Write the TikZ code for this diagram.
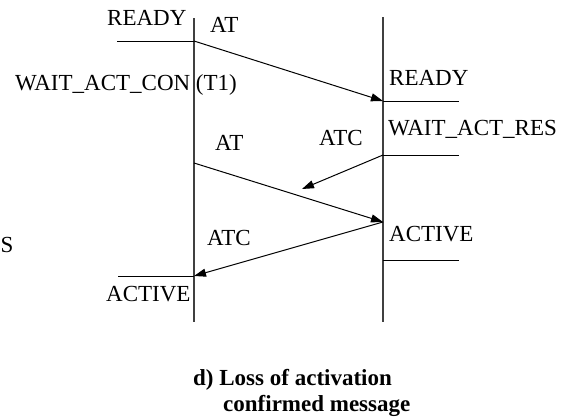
\documentclass[tikz,border=0pt]{standalone}
\usepackage{fontspec}
\setmainfont{Liberation Serif}
\usetikzlibrary{arrows.meta}
\tikzset{
  lbl/.style={inner sep=0pt, anchor=base west, font=\fontsize{23}{27}\selectfont},
  captxt/.style={inner sep=0pt, anchor=base west, font=\fontsize{23}{27}\selectfont\bfseries},
  life/.style={line width=1.4pt, draw=black!75},
  state/.style={line width=1pt, draw=black},
  msg/.style={line width=1pt, draw=black, -{Triangle[length=12pt,width=8pt]}}
}
\begin{document}
\begin{tikzpicture}[x=1pt,y=-1pt]
\useasboundingbox (0,0) rectangle (564,418);
% lifelines
\coordinate (Ltop) at (194,18);
\coordinate (Lbot) at (194,322);
\coordinate (Rtop) at (383,17);
\coordinate (Rbot) at (383,322);
\draw[life] (Ltop) -- (Lbot);
\draw[life] (Rtop) -- (Rbot);
% state lines
\coordinate (lr0) at (117,41);  \coordinate (lr1) at (194,41);
\coordinate (rr0) at (383,101); \coordinate (rr1) at (459,101);
\coordinate (rw0) at (383,155); \coordinate (rw1) at (459,155);
\coordinate (ra0) at (383,260); \coordinate (ra1) at (459,260);
\coordinate (la0) at (118,276); \coordinate (la1) at (194,276);
\draw[state] (lr0) -- (lr1);
\draw[state] (rr0) -- (rr1);
\draw[state] (rw0) -- (rw1);
\draw[state] (ra0) -- (ra1);
\draw[state] (la0) -- (la1);
% messages
\coordinate (at2s) at (194,163);
\coordinate (at2e) at (383,222);
\coordinate (lost) at (302,189);
\draw[msg] (lr1) -- (rr0);
\draw[msg] (rw0) -- (lost);
\draw[msg] (at2s) -- (at2e);
\draw[msg] (at2e) -- (la1);
% labels
\node[lbl] (readyL) at (107,25) {READY};
\node[lbl] (at1) at (210,32) {AT};
\node[lbl] (waitcon) at (15,90) {WAIT\_ACT\_CON (T1)};
\node[lbl] (readyR) at (389,85) {READY};
\node[lbl] (waitres) at (388,135) {WAIT\_ACT\_RES};
\node[lbl] (atc1) at (319,145) {ATC};
\node[lbl] (at2) at (215,150) {AT};
\node[lbl] (atc2) at (207,245) {ATC};
\node[lbl] (activeR) at (389,241) {ACTIVE};
\node[lbl] (activeL) at (106,301) {ACTIVE};
\node[lbl] (s) at (0.5,252) {S};
\node[captxt] (cap1) at (193,385) {d) Loss of activation};
\node[captxt] (cap2) at (223,411) {confirmed message};
\end{tikzpicture}
\end{document}
